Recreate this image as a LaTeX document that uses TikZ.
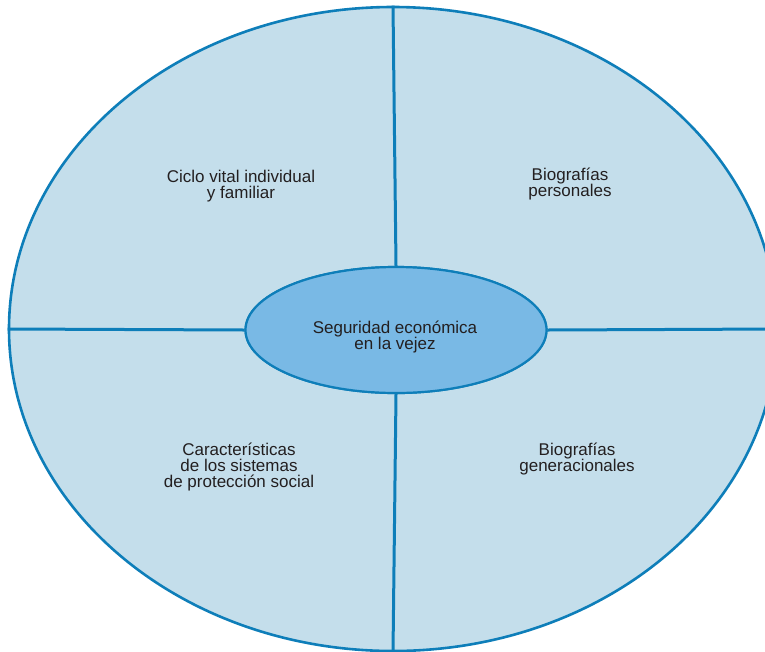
\documentclass[tikz,border=0pt]{standalone}
\RequirePackage{fontspec}
\setmainfont{Liberation Sans}
\RequirePackage{tikz}
\usetikzlibrary{shapes.geometric}

\definecolor{ringblue}{HTML}{0E7EB9}
\definecolor{paleblue}{HTML}{C4DEEB}
\definecolor{coreblue}{HTML}{79B9E5}
\definecolor{inkgray}{HTML}{231F20}

\tikzset{
    ring/.style={ellipse, draw=ringblue, fill=paleblue, line width=2.6pt,
        minimum width=768pt, minimum height=644pt, inner sep=0pt},
    core/.style={ellipse, draw=ringblue, fill=coreblue, line width=2.2pt,
        minimum width=301pt, minimum height=126pt, inner sep=0pt},
    spoke/.style={draw=ringblue, line width=3pt},
    label/.style={align=center, text=inkgray, inner sep=0pt,
        font=\fontsize{17}{16}\selectfont}
}

\begin{document}
\begin{tikzpicture}[x=1pt,y=-1pt]
                \useasboundingbox (0,0) rectangle (765,651);
                \clip (0,0) rectangle (765,651);

                \node[ring] (outer) at (393,329) {};
                \node[core] (inner) at (396,330) {};

                \draw[spoke] (inner.north) -- (outer.north);
                \draw[spoke] (inner.south) -- (outer.south);
                \draw[spoke] (inner.west) -- (outer.west);
                \draw[spoke] (inner.east) -- (outer.east);

                \node[core] at (inner) {};
                \node[label] (seguridad) at (395,336.5) {Seguridad económica\\en la vejez};

                \node[label] (ciclo) at (241,186.5) {Ciclo vital individual\\y familiar};
                \node[label] (personales) at (570,184) {Biografías\\personales};
                \node[label] (sistemas) at (239,466.5) {Características\\de los sistemas\\de protección social};
                \node[label] (generacionales) at (577,458.5) {Biografías\\generacionales};
            \end{tikzpicture}
\end{document}
